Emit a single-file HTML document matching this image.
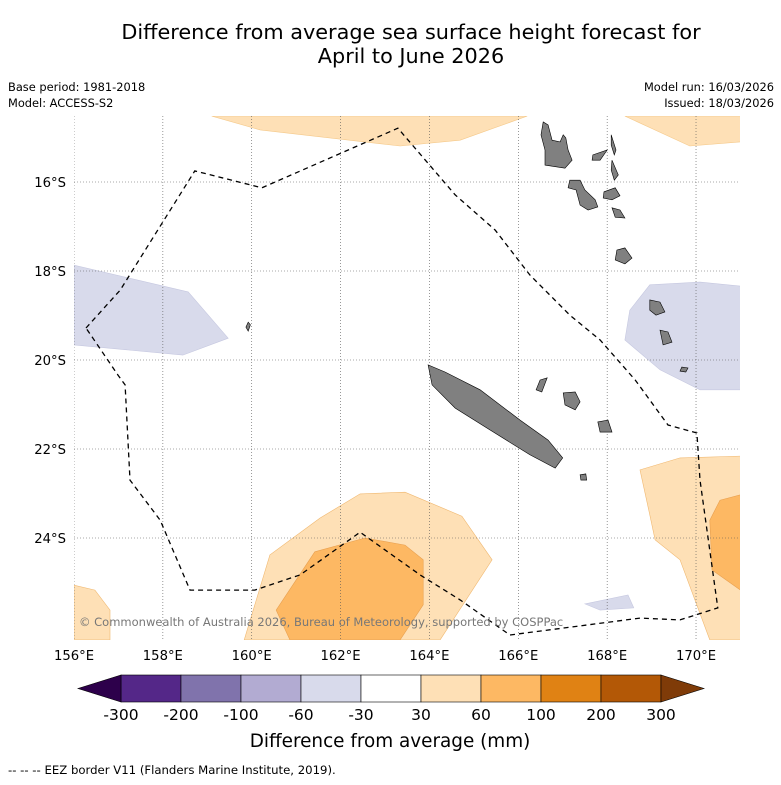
<!DOCTYPE html>
<html><head><meta charset="utf-8"><style>
body{margin:0;background:#fff;font-family:"DejaVu Sans",sans-serif}
</style></head><body>
<svg id="svg" width="781" height="781" xmlns="http://www.w3.org/2000/svg" font-family="DejaVu Sans, sans-serif">
<text x="411" y="39" font-size="20.8" text-anchor="middle">Difference from average sea surface height forecast for</text>
<text x="411" y="63" font-size="20.8" text-anchor="middle">April to June 2026</text>
<text x="8" y="91" font-size="11.4">Base period: 1981-2018</text>
<text x="8" y="107" font-size="11.4">Model: ACCESS-S2</text>
<text x="774" y="91" font-size="11.4" text-anchor="end">Model run: 16/03/2026</text>
<text x="774" y="107" font-size="11.4" text-anchor="end">Issued: 18/03/2026</text>
<defs><clipPath id="clip"><rect x="74" y="116" width="666" height="524"/></clipPath></defs>
<g id="map" clip-path="url(#clip)"></g>
<g id="axes"></g>
<g id="cbar"></g>
<text x="390" y="747" font-size="18.4" text-anchor="middle">Difference from average (mm)</text>
<text x="8" y="774" font-size="11.7">-- -- -- EEZ border V11 (Flanders Marine Institute, 2019).</text>
</svg>
<script>
const lonTicks=[156,158,160,162,164,166,168,170];
const latTicks=[-16,-18,-20,-22,-24];
const cbBounds=["-300","-200","-100","-60","-30","30","60","100","200","300"];
const cbColors=["#542788","#8073ac","#b2abd2","#d8daeb","#ffffff","#fee0b6","#fdb863","#e08214","#b35806"];
const cbLow="#2d004b", cbHigh="#7f3b08";
const lightOrange=[[159.1,-14.52],[160.19,-14.83],[163.34,-15.19],[164.69,-15.06],[166.2,-14.52]];
const lightOrangeTR=[[168.4,-14.52],[169.86,-15.19],[171,-15.1],[171,-14.52]];
const lavLeft=[[156,-17.87],[158.57,-18.47],[159.47,-19.51],[158.45,-19.89],[156,-19.66]];
const lavRight=[[168.96,-18.31],[170.09,-18.25],[171,-18.34],[171,-20.67],[170.09,-20.67],[169.19,-20.22],[168.4,-19.55],[168.51,-18.88]];
const orangeBottom=[[159.83,-26.29],[160.41,-24.38],[161.54,-23.55],[162.44,-23.01],[163.45,-22.97],[164.73,-23.51],[165.41,-24.49],[164.24,-26.29]];
const orangeBottomDark=[[160.55,-25.62],[161.42,-24.31],[162.55,-24.0],[163.45,-24.16],[163.86,-24.49],[163.86,-25.5],[163.34,-26.29],[160.86,-26.29]];
const orangeBL=[[156,-25.06],[156.47,-25.17],[156.81,-25.62],[156.81,-26.29],[156,-26.29]];
const orangeRight=[[168.74,-22.47],[169.64,-22.2],[171,-22.16],[171,-26.29],[170.31,-26.29],[169.64,-24.49],[169.08,-24.04],[168.96,-23.48]];
const orangeRightDark=[[171,-23.03],[170.54,-23.15],[170.31,-23.6],[170.36,-24.72],[171,-25.17]];
const lavSmall=[[167.5,-25.48],[168.47,-25.28],[168.6,-25.57],[167.84,-25.62]];
const eez=[[156.27,-19.28],[157.04,-18.43],[158.72,-15.75],[160.23,-16.13],[163.29,-14.79],[164.58,-16.29],[165.48,-17.08],[166.26,-18.09],[167.16,-18.99],[167.84,-19.55],[168.63,-20.45],[169.37,-21.46],[170.02,-21.64],[170.09,-22.7],[170.49,-25.57],[169.64,-25.84],[168.74,-25.8],[165.81,-26.18],[164.69,-25.39],[163.79,-24.83],[162.44,-23.87],[161.09,-24.83],[160.07,-25.17],[158.61,-25.17],[157.94,-23.6],[157.26,-22.7],[157.15,-20.56],[156.99,-20.34],[156.27,-19.28]];
const islands=[
[[166.56,-14.65],[166.67,-14.72],[166.76,-15.06],[166.94,-15.1],[167.01,-14.94],[167.07,-15.01],[167.12,-15.28],[167.21,-15.51],[167.05,-15.69],[166.6,-15.62],[166.6,-15.28],[166.51,-14.94]],
[[167.16,-15.96],[167.39,-15.96],[167.5,-16.18],[167.73,-16.4],[167.79,-16.56],[167.57,-16.63],[167.39,-16.52],[167.3,-16.18],[167.12,-16.13]],
[[167.93,-16.22],[168.18,-16.13],[168.29,-16.31],[168.11,-16.4],[167.91,-16.36]],
[[168.22,-17.53],[168.4,-17.48],[168.56,-17.71],[168.4,-17.84],[168.18,-17.75]],
[[167.68,-15.39],[168.0,-15.28],[167.84,-15.51],[167.66,-15.51]],
[[168.09,-14.94],[168.2,-15.28],[168.16,-15.39],[168.09,-15.17]],
[[168.11,-15.51],[168.25,-15.84],[168.16,-15.96],[168.09,-15.73]],
[[168.11,-16.58],[168.29,-16.63],[168.4,-16.81],[168.18,-16.79]],
[[168.96,-18.65],[169.19,-18.7],[169.3,-18.92],[169.1,-18.99],[168.96,-18.88]],
[[169.19,-19.33],[169.37,-19.37],[169.46,-19.6],[169.26,-19.66]],
[[169.68,-20.16],[169.82,-20.18],[169.77,-20.27],[169.64,-20.25]],
[[163.97,-20.11],[164.35,-20.27],[165.14,-20.67],[166.04,-21.35],[166.67,-21.8],[167.0,-22.2],[166.83,-22.43],[166.26,-22.13],[165.36,-21.57],[164.58,-21.08],[164.06,-20.56]],
[[167.01,-20.74],[167.28,-20.72],[167.39,-20.94],[167.28,-21.12],[167.05,-21.01]],
[[167.79,-21.39],[168.02,-21.35],[168.11,-21.62],[167.84,-21.62]],
[[166.49,-20.45],[166.65,-20.4],[166.53,-20.72],[166.4,-20.67]],
[[167.39,-22.58],[167.52,-22.56],[167.54,-22.7],[167.41,-22.7]],
[[159.92,-19.15],[159.97,-19.21],[159.92,-19.35],[159.87,-19.26]]
];
const NS="http://www.w3.org/2000/svg";
const X=lon=>74+(lon-156)*44.43;
const Y=lat=>182+(-16-lat)*44.5;
const map=document.getElementById('map'),axes=document.getElementById('axes'),cb=document.getElementById('cbar');
function mk(tag,attrs,parent){const e=document.createElementNS(NS,tag);for(const k in attrs)e.setAttribute(k,attrs[k]);parent.appendChild(e);return e;}
const pts=a=>a.map(p=>X(p[0]).toFixed(1)+','+Y(p[1]).toFixed(1)).join(' ');
function poly(a,fill,stroke,name){const e=mk('polygon',{points:pts(a),fill:fill,stroke:stroke,'stroke-width':0.6},map);

}
poly(lightOrange,'#fee0b6','#f5c98a','contour-30-60-top');
poly(lightOrangeTR,'#fee0b6','#f5c98a','contour-30-60-top-right');
poly(lavLeft,'#d8daeb','#c6c8e0','contour-neg30-60-left');
poly(lavRight,'#d8daeb','#c6c8e0','contour-neg30-60-right');
poly(orangeBottom,'#fee0b6','#f0b870','contour-30-60-bottom');
poly(orangeBottomDark,'#fdb863','#e8a050','contour-60-100-bottom');
poly(orangeBL,'#fee0b6','#f0b870','contour-30-60-bottom-left');
poly(orangeRight,'#fee0b6','#f0b870','contour-30-60-right');
poly(orangeRightDark,'#fdb863','#e8a050','contour-60-100-right');
poly(lavSmall,'#d8daeb','#c6c8e0','contour-neg30-60-small');
lonTicks.forEach(l=>{const e=mk('line',{x1:X(l),x2:X(l),y1:116,y2:640,stroke:'#555','stroke-width':0.6,'stroke-dasharray':'1,2'},map);

});
latTicks.forEach(l=>{const e=mk('line',{x1:74,x2:740,y1:Y(l),y2:Y(l),stroke:'#555','stroke-width':0.6,'stroke-dasharray':'1,2'},map);

});
islands.forEach(a=>poly(a,'#808080','#000','island'));
const ez=mk('polyline',{points:pts(eez),fill:'none',stroke:'#000','stroke-width':1.3,'stroke-dasharray':'5,4'},map);


const cr=mk('text',{x:79,y:626,'font-size':11.5,fill:'#777'},map);cr.textContent='© Commonwealth of Australia 2026, Bureau of Meteorology, supported by COSPPac';


lonTicks.forEach(l=>{const t=mk('text',{x:X(l),y:660,'font-size':13.2,'text-anchor':'middle'},axes);t.textContent=l+'°E';

});
latTicks.forEach(l=>{const t=mk('text',{x:66,y:Y(l)+5,'font-size':13.2,'text-anchor':'end'},axes);t.textContent=(-l)+'°S';

});
const cx0=121,cw=60,cy=675,ch=27;
cbColors.forEach((c,i)=>{const r=mk('rect',{x:cx0+i*cw,y:cy,width:cw,height:ch,fill:c,stroke:'#000','stroke-width':0.6},cb);

});
const lo=mk('polygon',{points:`${cx0},${cy} ${cx0},${cy+ch} 78,${cy+ch/2}`,fill:cbLow,stroke:'#000','stroke-width':0.6},cb);


const xe=cx0+cbColors.length*cw;
const hi=mk('polygon',{points:`${xe},${cy} ${xe},${cy+ch} 704,${cy+ch/2}`,fill:cbHigh,stroke:'#000','stroke-width':0.6},cb);


cbBounds.forEach((b,i)=>{const t=mk('text',{x:cx0+i*cw,y:720,'font-size':15.5,'text-anchor':'middle'},cb);t.textContent=b;

});
</script>
</body></html>
